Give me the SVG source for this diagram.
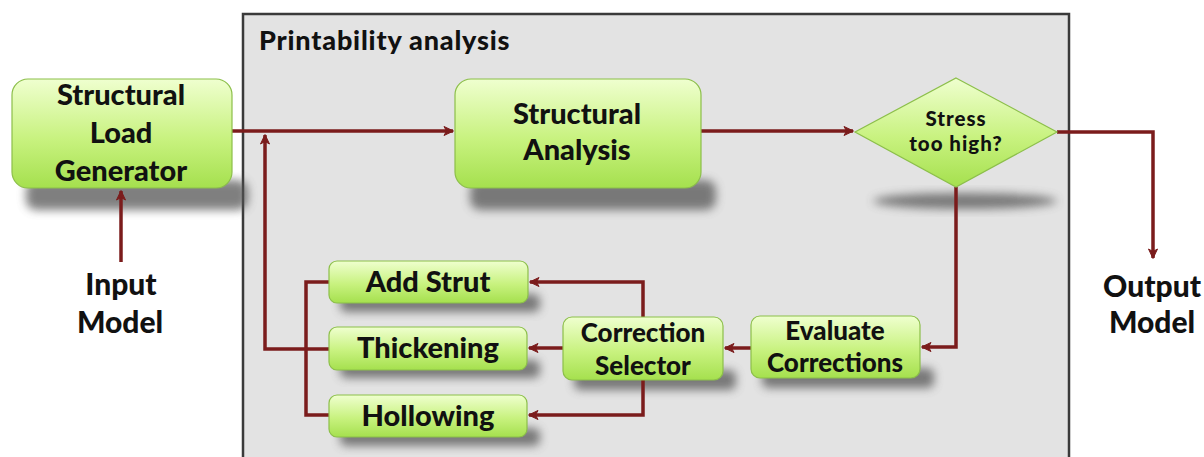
<svg xmlns="http://www.w3.org/2000/svg" width="1204" height="457" viewBox="0 0 1204 457">
  <defs>
    <linearGradient id="boxFill" x1="0" y1="0" x2="0" y2="1">
      <stop offset="0" stop-color="#efffcf"/>
      <stop offset="0.55" stop-color="#c8f27f"/>
      <stop offset="1" stop-color="#a5e04e"/>
    </linearGradient>
    <filter id="soft" x="-20%" y="-50%" width="140%" height="200%">
      <feGaussianBlur stdDeviation="5"/>
    </filter>
    <marker id="arrow" viewBox="0 0 12 12" refX="10" refY="6" markerWidth="12" markerHeight="12" markerUnits="userSpaceOnUse" orient="auto">
      <path d="M1,1.5 L10.5,6 L1,10.5 L3.5,6 Z" fill="#7b1c1c" stroke="#7b1c1c" stroke-width="1" stroke-linejoin="round"/>
    </marker>
  </defs>
  <style>
    .node { fill: url(#boxFill); stroke: #8cbf4a; stroke-width: 1.2; }
    .shadow { fill: #555; opacity: 0.75; filter: url(#soft); }
    .label { font-family: Lato, "Open Sans", "Liberation Sans", sans-serif; font-weight: 900; fill: #111; text-anchor: middle; }
    .big { font-size: 29px; }
    .mid { font-size: 26px; }
    .small { font-size: 20.5px; letter-spacing: 1px; }
    .ext { font-size: 30px; }
    .title { font-size: 27px; text-anchor: start; letter-spacing: 0.8px; }
    .link { fill: none; stroke: #7b1c1c; stroke-width: 3.5; stroke-linejoin: miter; }
    .arrowed { marker-end: url(#arrow); }
  </style>

  <rect x="0" y="0" width="1204" height="457" fill="#ffffff"/>

  <!-- printability analysis frame -->
  <g id="printability">
    <rect x="243" y="14" width="826" height="460" fill="#e3e3e3" stroke="#3a3a3a" stroke-width="2.5"/>
    <text class="label title" x="259" y="50">Printability analysis</text>
  </g>

  <!-- shadows -->
  <g id="shadows">
    <rect class="shadow" x="26" y="180" width="222" height="30" rx="10"/>
    <rect class="shadow" x="470" y="180" width="246" height="30" rx="10"/>
    <ellipse class="shadow" cx="965" cy="201" rx="92" ry="8"/>
    <rect class="shadow" x="340" y="294" width="200" height="18" rx="6"/>
    <rect class="shadow" x="340" y="360" width="200" height="18" rx="6"/>
    <rect class="shadow" x="340" y="428" width="200" height="18" rx="6"/>
    <rect class="shadow" x="574" y="370" width="162" height="20" rx="6"/>
    <rect class="shadow" x="762" y="368" width="172" height="20" rx="6"/>
  </g>

  <!-- connectors -->
  <g id="connectors">
    <polyline class="link arrowed" points="232,131 453,131"/>
    <polyline class="link arrowed" points="121,262 121,191"/>
    <polyline class="link arrowed" points="701,131 853,131"/>
    <polyline class="link arrowed" points="1057,132 1153,132 1153,258"/>
    <polyline class="link arrowed" points="956,187 956,347 922,347"/>
    <polyline class="link arrowed" points="751,348 725,348"/>
    <polyline class="link arrowed" points="563,348 529,348"/>
    <polyline class="link arrowed" points="643,317 643,282 530,282"/>
    <polyline class="link arrowed" points="643,380 643,415 529,415"/>
    <polyline class="link" points="329,282 306,282 306,415 329,415"/>
    <polyline class="link arrowed" points="329,349 265,349 265,135"/>
  </g>

  <!-- nodes -->
  <g id="structural-load-generator">
    <rect class="node" x="12" y="79" width="220" height="109" rx="16"/>
    <text class="label big" x="121" y="105">Structural</text>
    <text class="label big" x="121" y="143">Load</text>
    <text class="label big" x="121" y="181">Generator</text>
  </g>

  <g id="structural-analysis">
    <rect class="node" x="455" y="79" width="246" height="109" rx="16"/>
    <text class="label big" x="577" y="124">Structural</text>
    <text class="label big" x="577" y="160">Analysis</text>
  </g>

  <g id="stress-check">
    <polygon class="node" points="956,78 1057,132 956,187 855,132"/>
    <text class="label small" x="956" y="126">Stress</text>
    <text class="label small" x="956" y="151">too high?</text>
  </g>

  <g id="evaluate-corrections">
    <rect class="node" x="751" y="316" width="169" height="62" rx="9"/>
    <text class="label mid" x="835" y="340">Evaluate</text>
    <text class="label mid" x="835" y="372">Corrections</text>
  </g>

  <g id="correction-selector">
    <rect class="node" x="563" y="317" width="160" height="63" rx="9"/>
    <text class="label mid" x="643" y="342">Correction</text>
    <text class="label mid" x="643" y="375">Selector</text>
  </g>

  <g id="add-strut">
    <rect class="node" x="329" y="261" width="199" height="42" rx="8"/>
    <text class="label big" x="428" y="292">Add Strut</text>
  </g>

  <g id="thickening">
    <rect class="node" x="329" y="327" width="198" height="43" rx="8"/>
    <text class="label big" x="428" y="358">Thickening</text>
  </g>

  <g id="hollowing">
    <rect class="node" x="329" y="395" width="198" height="42" rx="8"/>
    <text class="label big" x="428" y="426">Hollowing</text>
  </g>

  <g id="input-model">
    <text class="label ext" x="121" y="295">Input</text>
    <text class="label ext" x="120" y="333">Model</text>
  </g>

  <g id="output-model">
    <text class="label ext" x="1152" y="297">Output</text>
    <text class="label ext" x="1152" y="333">Model</text>
  </g>
</svg>
